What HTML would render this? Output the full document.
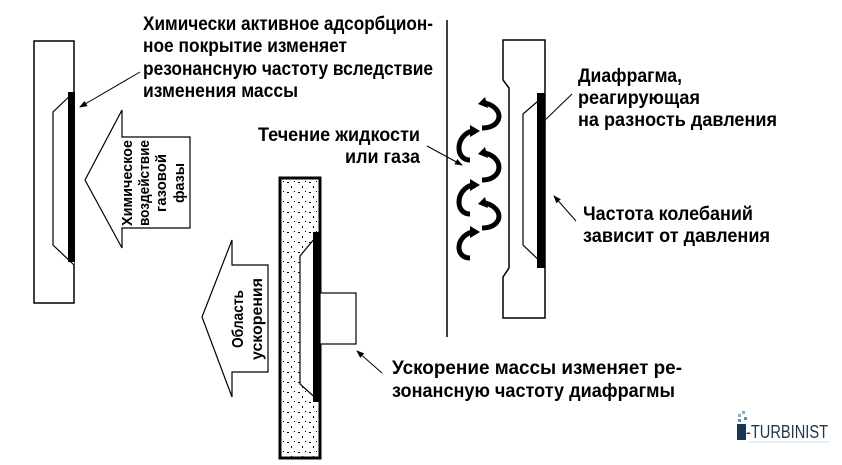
<!DOCTYPE html>
<html><head><meta charset="utf-8"><style>
html,body{margin:0;padding:0;background:#fff;}
svg text{font-family:"Liberation Sans Narrow","Liberation Sans",sans-serif;font-weight:bold;fill:#000;}
</style></head><body>
<svg width="842" height="460" viewBox="0 0 842 460" xmlns="http://www.w3.org/2000/svg">
<defs>
<marker id="ah" markerWidth="8" markerHeight="8" refX="7" refY="4" orient="auto" markerUnits="userSpaceOnUse">
<path d="M0,1 L8,4 L0,7 z" fill="#000"/></marker>
<pattern id="dots" width="11" height="10" patternUnits="userSpaceOnUse">
<rect x="1" y="2" width="2" height="1" fill="#000"/><rect x="5" y="6" width="1" height="2" fill="#000"/><rect x="8" y="1" width="1" height="1" fill="#000"/></pattern>
</defs>

<!-- Left plate -->
<rect x="34" y="41" width="40" height="262" fill="#fff" stroke="#000" stroke-width="1.5"/>
<path d="M74,92 L53,112 L53,245 L74,265" fill="#fff" stroke="#000" stroke-width="1.2"/>
<rect x="68" y="92" width="7" height="170" fill="#000"/>
<line x1="140" y1="72" x2="80" y2="107" stroke="#000" stroke-width="1" marker-end="url(#ah)"/>

<!-- Arrow 1 -->
<path d="M85,180 L122,110 L122,137 L190,137 L190,228 L122,228 L122,248 Z" fill="#fff" stroke="#000" stroke-width="1.2"/>
<g transform="translate(156,183) rotate(-90)" font-size="15">
<text x="0" y="-24" text-anchor="middle" textLength="86" lengthAdjust="spacingAndGlyphs">Химическое</text>
<text x="0" y="-7" text-anchor="middle" textLength="86" lengthAdjust="spacingAndGlyphs">воздействие</text>
<text x="0" y="10" text-anchor="middle" textLength="58" lengthAdjust="spacingAndGlyphs">газовой</text>
<text x="0" y="28" text-anchor="middle" textLength="40" lengthAdjust="spacingAndGlyphs">фазы</text>
</g>

<!-- Top-left label -->
<g font-size="19">
<text x="143" y="30" textLength="290" lengthAdjust="spacingAndGlyphs">Химически активное адсорбцион-</text>
<text x="143" y="52" textLength="204" lengthAdjust="spacingAndGlyphs">ное покрытие изменяет</text>
<text x="143" y="75" textLength="290" lengthAdjust="spacingAndGlyphs">резонансную частоту вследствие</text>
<text x="143" y="97" textLength="155" lengthAdjust="spacingAndGlyphs">изменения массы</text>
</g>

<!-- Middle plate -->
<rect x="280" y="178" width="40" height="280" fill="#fff" stroke="#000" stroke-width="3"/>
<rect x="281" y="179" width="38" height="278" fill="url(#dots)"/>
<path d="M320,232 L300,256 L300,384 L320,402 Z" fill="#fff" stroke="#000" stroke-width="1.2"/>
<rect x="313" y="232" width="7" height="170" fill="#000"/>
<rect x="320" y="293" width="36" height="51" fill="#fff" stroke="#000" stroke-width="1.2"/>
<line x1="382" y1="373" x2="357" y2="351" stroke="#000" stroke-width="1" marker-end="url(#ah)"/>

<!-- Arrow 2 -->
<path d="M202,317 L232,240 L232,265 L268,265 L268,372 L232,372 L232,397 Z" fill="#fff" stroke="#000" stroke-width="1.2"/>
<g transform="translate(248,319) rotate(-90)" font-size="16">
<text x="0" y="-5" text-anchor="middle" textLength="58" lengthAdjust="spacingAndGlyphs">Область</text>
<text x="0" y="14" text-anchor="middle" textLength="82" lengthAdjust="spacingAndGlyphs">ускорения</text>
</g>

<g font-size="19">
<text x="392" y="374" textLength="290" lengthAdjust="spacingAndGlyphs">Ускорение массы изменяет ре-</text>
<text x="392" y="397" textLength="283" lengthAdjust="spacingAndGlyphs">зонансную частоту диафрагмы</text>
</g>

<!-- Vertical line -->
<line x1="447" y1="20" x2="447" y2="337" stroke="#000" stroke-width="1.5"/>

<!-- Right plate -->
<path d="M503,40 L503,80 L509,88 L509,268 L503,277 L503,318 L545,318 L545,40 Z" fill="#fff" stroke="#000" stroke-width="1.5"/>
<path d="M545,95 L523,114 L523,245 L545,266" fill="none" stroke="#000" stroke-width="1.2"/>
<rect x="537" y="93" width="8" height="175" fill="#000"/>

<!-- Flow arrows -->
<g fill="none" stroke="#000" stroke-width="5" stroke-linecap="butt">
<path d="M472,131 C455,136 455,160 470,160"/>
<path d="M472,185 C455,190 455,214 470,214"/>
<path d="M472,232 C455,237 455,258 470,258"/>
<path d="M485,103 C505,108 503,128 482,128"/>
<path d="M485,153 C505,158 503,180 482,180"/>
<path d="M485,203 C505,208 503,228 482,228"/>
</g>
<g fill="#000">
<path d="M470,125 L480,131 L470,137 Z"/>
<path d="M470,179 L480,185 L470,191 Z"/>
<path d="M470,226 L480,232 L470,238 Z"/>
<path d="M485,97 L478,104 L488,108 Z"/>
<path d="M485,147 L478,154 L488,158 Z"/>
<path d="M485,197 L478,204 L488,208 Z"/>
</g>
<line x1="427" y1="146" x2="462" y2="165" stroke="#000" stroke-width="1" marker-end="url(#ah)"/>

<g font-size="19">
<text x="258" y="141" textLength="162" lengthAdjust="spacingAndGlyphs">Течение жидкости</text>
<text x="345" y="163" textLength="75" lengthAdjust="spacingAndGlyphs">или газа</text>
<text x="578" y="82" textLength="104" lengthAdjust="spacingAndGlyphs">Диафрагма,</text>
<text x="578" y="104" textLength="122" lengthAdjust="spacingAndGlyphs">реагирующая</text>
<text x="578" y="126" textLength="199" lengthAdjust="spacingAndGlyphs">на разность давления</text>
<text x="583" y="220" textLength="170" lengthAdjust="spacingAndGlyphs">Частота колебаний</text>
<text x="583" y="242" textLength="187" lengthAdjust="spacingAndGlyphs">зависит от давления</text>
</g>
<line x1="572" y1="94" x2="541" y2="124" stroke="#000" stroke-width="1"/>
<line x1="576" y1="221" x2="554" y2="196" stroke="#000" stroke-width="1" marker-end="url(#ah)"/>

<!-- Logo -->
<rect x="737" y="424" width="9" height="16" fill="#1c3550"/>
<rect x="738" y="414" width="3" height="3" fill="#7fb0d8"/><rect x="742" y="411" width="3" height="3" fill="#7fb0d8"/><rect x="744" y="417" width="3" height="3" fill="#5a90c0"/><rect x="738" y="419" width="3" height="3" fill="#5a90c0"/>
<text x="746" y="438" font-size="18" style="font-family:'Liberation Sans Narrow','Liberation Sans',sans-serif;font-weight:normal;fill:#1c3550" textLength="82" lengthAdjust="spacingAndGlyphs">-TURBINIST</text>
<line x1="748" y1="442" x2="830" y2="442" stroke="#cfe0ee" stroke-width="1"/>
</svg>
</body></html>
